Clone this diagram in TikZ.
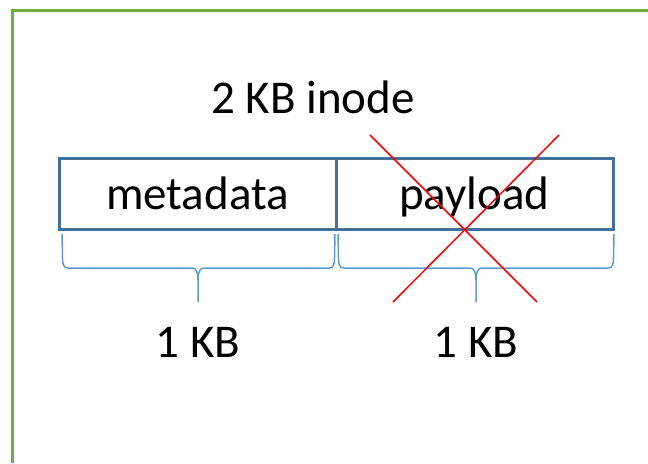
\documentclass[tikz,border=0pt]{standalone}
\usepackage{fontspec}
\setmainfont{Carlito}
\usetikzlibrary{positioning,calc}

\definecolor{boxblue}{HTML}{41719C}
\definecolor{braceblue}{HTML}{5B9BD5}
\definecolor{framegreen}{HTML}{70AD47}

\tikzset{
  cell/.style={draw=boxblue,line width=1.5pt,minimum width=138.5pt,minimum height=35.5pt,
    inner sep=0pt,outer sep=0pt,text height=21pt,text depth=5pt,
    font=\fontsize{23.5}{28}\selectfont},
  label/.style={font=\fontsize{23.5}{28}\selectfont,inner sep=0pt},
  curly/.style={draw=braceblue,line width=0.75pt},
  cross/.style={draw=red,line width=0.75pt}
}

% curly brace from #1 to #2, tip at #3 (34 down to the bar, 34 more to the tip)
\newcommand{\inodebrace}[3]{
  \draw[curly] (#1) -- ($(#1)+(0.5,24)$) .. controls +(0,7) and +(-4,0) .. ($(#1)+(6,34)$)
    -- ($(#3)+(-6,-34)$) .. controls +(4,0) and +(0,-8) .. ($(#3)+(0,-22)$) -- (#3)
    -- ($(#3)+(0,-22)$) .. controls +(0,-8) and +(-4,0) .. ($(#3)+(6,-34)$)
    -- ($(#2)+(-6,34)$) .. controls +(4,0) and +(0,7) .. ($(#2)+(-0.5,24)$) -- (#2);
}

\begin{document}
\begin{tikzpicture}[x=0.5pt,y=-0.5pt]
  \useasboundingbox (0,0) rectangle (648,463);

  % frame
  \draw[draw=framegreen,line width=1.5pt] (12,463) -- (12,10) -- (648,10);

  \node[label] (title) at (313,97) {2 KB inode};

  % the inode
  \node[cell] (meta) at (197.5,193.5) {metadata};
  \node[cell,right=0pt of meta] (payload) {payload};

  % braces
  \coordinate (lbA) at ($(meta.south west)+(3,5)$);
  \coordinate (lbB) at ($(meta.south east)+(-1,5)$);
  \coordinate (lbT) at ($(meta.south)+(0.5,73)$);
  \coordinate (rbA) at ($(payload.south west)+(2,5)$);
  \coordinate (rbB) at ($(payload.south east)+(1,5)$);
  \coordinate (rbT) at ($(payload.south)+(1.5,73)$);
  \inodebrace{lbA}{lbB}{lbT}
  \inodebrace{rbA}{rbB}{rbT}

  \node[label] (sizeL) at (198,342) {1 KB};
  \node[label] (sizeR) at (476,342) {1 KB};

  % crossed out
  \draw[cross] (370,135) -- (537,302);
  \draw[cross] (559,135) -- (393,302);
\end{tikzpicture}
\end{document}
